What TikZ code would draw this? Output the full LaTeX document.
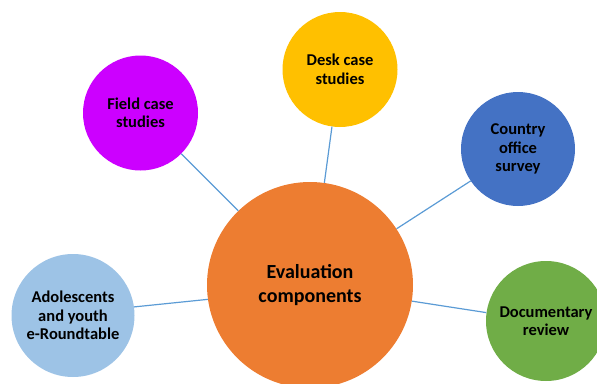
\documentclass[tikz,border=0pt]{standalone}
\usepackage{fontspec}
\setmainfont{Carlito}
\definecolor{evalorange}{HTML}{ED7D31}
\definecolor{fieldmagenta}{HTML}{CC00FF}
\definecolor{deskyellow}{HTML}{FFC000}
\definecolor{surveyblue}{HTML}{4472C4}
\definecolor{youthblue}{HTML}{9DC3E6}
\definecolor{docgreen}{HTML}{70AD47}
\definecolor{linkblue}{HTML}{5B9BD5}

\begin{document}
\begin{tikzpicture}[x=1pt, y=-1pt,
    comp/.style={circle, inner sep=0pt, align=center,
      font=\bfseries\fontsize{16.5}{18.5}\selectfont},
    link/.style={draw=linkblue, line width=1.2pt}]
  \useasboundingbox (0,0) rectangle (597,383);
  \clip (0,0) rectangle (597,383);
  % Central circle
  \node[comp, fill=evalorange, minimum size=206pt,
    font=\bfseries\fontsize{20}{24.5}\selectfont] (eval) at (310,285) {Evaluation\\components};
  % Surrounding components
  \node[comp, fill=fieldmagenta, minimum size=115pt] (field) at (140.5,113) {Field case\\studies};
  \node[comp, fill=deskyellow, minimum size=115pt] (desk) at (340,69.5) {Desk case\\studies};
  \node[comp, fill=surveyblue, minimum size=114pt] (survey) at (518,149) {Country\\office\\survey};
  \node[comp, fill=youthblue, minimum size=123pt] (youth) at (73,315.5) {Adolescents\\and youth\\e-Roundtable};
  \node[comp, fill=docgreen, minimum size=120pt] (docs) at (546,321) {Documentary\\review};
  % Connectors
  \draw[link] (eval.134.6) -- (field.-45);
  \draw[link] (eval.82) -- (desk.-98);
  \draw[link] (eval.33) -- (survey.214);
  \draw[link] (eval.188) -- (youth.8);
  \draw[link] (eval.-9) -- (docs.172);
\end{tikzpicture}
\end{document}
